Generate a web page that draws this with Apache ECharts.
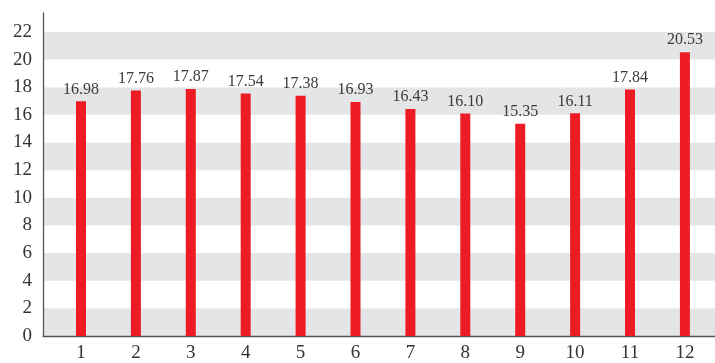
<!DOCTYPE html>
<html>
<head>
<meta charset="utf-8">
<script src="https://cdn.jsdelivr.net/npm/echarts@6/dist/echarts.min.js"></script>
<style>
  html, body { margin: 0; padding: 0; background: #fff; }
  #chart { width: 715px; height: 363px; }
</style>
</head>
<body>
<div id="chart"></div>
<script>
// Monthly values, one bar per month
const months = [1, 2, 3, 4, 5, 6, 7, 8, 9, 10, 11, 12];
const values = [16.98, 17.76, 17.87, 17.54, 17.38, 16.93, 16.43, 16.10, 15.35, 16.11, 17.84, 20.53];
const yTicks = [0, 2, 4, 6, 8, 10, 12, 14, 16, 18, 20, 22];

const serif = '"Liberation Serif", "DejaVu Serif", serif';
const chart = echarts.init(document.getElementById('chart'), null, { renderer: 'canvas' });

chart.setOption({
  animation: false,
  grid: { left: 43, right: 0, top: 13, bottom: 24, containLabel: false },
  xAxis: {
    type: 'value',
    min: 0.308,
    max: 12.548,
    splitLine: { show: false },
    axisLine: { show: true, lineStyle: { color: '#555', width: 1.3 } },
    axisTick: { show: false },
    axisLabel: {
      customValues: months,
      margin: 8,
      fontFamily: serif,
      fontSize: 19,
      color: '#333'
    }
  },
  yAxis: {
    type: 'value',
    min: 0,
    max: 23.37,
    interval: 2,
    axisLine: { show: true, lineStyle: { color: '#555', width: 1.3 } },
    axisTick: { show: false },
    splitLine: { show: false },
    splitArea: { show: true, areaStyle: { color: ['#e4e5e6', '#ffffff'] } },
    axisLabel: {
      showMaxLabel: false,
      margin: 11,
      fontFamily: serif,
      fontSize: 19,
      color: '#333',
      padding: [0, 0, 17, 0],
      formatter: v => (yTicks.indexOf(v) >= 0 ? String(v) : '')
    }
  },
  series: [{
    type: 'bar',
    barWidth: 10,
    data: months.map((m, i) => [m, values[i]]),
    itemStyle: { color: '#ed1c24' },
    label: {
      show: true,
      position: 'top',
      distance: 4,
      fontFamily: serif,
      fontSize: 16,
      color: '#3a3a3a',
      formatter: p => p.value[1].toFixed(2)
    }
  }]
});
</script>
</body>
</html>
